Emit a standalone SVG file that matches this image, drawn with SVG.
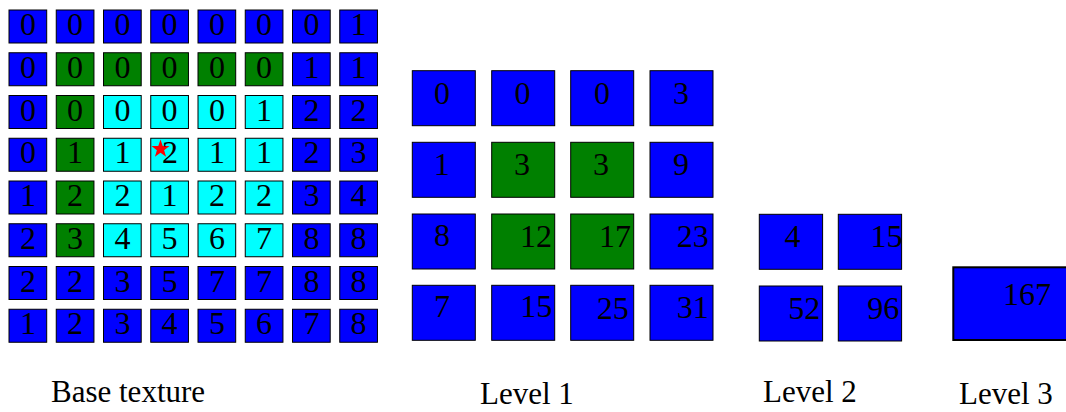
<svg xmlns="http://www.w3.org/2000/svg" width="1066" height="412" viewBox="0 0 1066 412">
<style>
rect{stroke:#000;stroke-width:1}
rect.bg{stroke:none;fill:#fff}
.b{fill:#0000ff}.g{fill:#008000}.c{fill:#00ffff}
text{font-family:"Liberation Serif","Times New Roman",serif;fill:#000}
.n{font-size:32px;text-anchor:middle}
.lbl{font-size:31px}
.thick{stroke-width:2}
</style>
<rect class="bg" width="1066" height="412"/>
<g id="base">
<g id="b-r1">
<rect class="b" x="9" y="10" width="37.7" height="33"/><text class="n" x="27.9" y="35">0</text>
<rect class="b" x="56.25" y="10" width="37.7" height="33"/><text class="n" x="75.1" y="35">0</text>
<rect class="b" x="103.5" y="10" width="37.7" height="33"/><text class="n" x="122.4" y="35">0</text>
<rect class="b" x="150.75" y="10" width="37.7" height="33"/><text class="n" x="169.6" y="35">0</text>
<rect class="b" x="198" y="10" width="37.7" height="33"/><text class="n" x="216.9" y="35">0</text>
<rect class="b" x="245.25" y="10" width="37.7" height="33"/><text class="n" x="264.1" y="35">0</text>
<rect class="b" x="292.5" y="10" width="37.7" height="33"/><text class="n" x="311.4" y="35">0</text>
<rect class="b" x="339.75" y="10" width="37.7" height="33"/><text class="n" x="358.6" y="35">1</text>
</g>
<g id="b-r2">
<rect class="b" x="9" y="52.75" width="37.7" height="33"/><text class="n" x="27.9" y="77.75">0</text>
<rect class="g" x="56.25" y="52.75" width="37.7" height="33"/><text class="n" x="75.1" y="77.75">0</text>
<rect class="g" x="103.5" y="52.75" width="37.7" height="33"/><text class="n" x="122.4" y="77.75">0</text>
<rect class="g" x="150.75" y="52.75" width="37.7" height="33"/><text class="n" x="169.6" y="77.75">0</text>
<rect class="g" x="198" y="52.75" width="37.7" height="33"/><text class="n" x="216.9" y="77.75">0</text>
<rect class="g" x="245.25" y="52.75" width="37.7" height="33"/><text class="n" x="264.1" y="77.75">0</text>
<rect class="b" x="292.5" y="52.75" width="37.7" height="33"/><text class="n" x="311.4" y="77.75">1</text>
<rect class="b" x="339.75" y="52.75" width="37.7" height="33"/><text class="n" x="358.6" y="77.75">1</text>
</g>
<g id="b-r3">
<rect class="b" x="9" y="95.5" width="37.7" height="33"/><text class="n" x="27.9" y="120.5">0</text>
<rect class="g" x="56.25" y="95.5" width="37.7" height="33"/><text class="n" x="75.1" y="120.5">0</text>
<rect class="c" x="103.5" y="95.5" width="37.7" height="33"/><text class="n" x="122.4" y="120.5">0</text>
<rect class="c" x="150.75" y="95.5" width="37.7" height="33"/><text class="n" x="169.6" y="120.5">0</text>
<rect class="c" x="198" y="95.5" width="37.7" height="33"/><text class="n" x="216.9" y="120.5">0</text>
<rect class="c" x="245.25" y="95.5" width="37.7" height="33"/><text class="n" x="264.1" y="120.5">1</text>
<rect class="b" x="292.5" y="95.5" width="37.7" height="33"/><text class="n" x="311.4" y="120.5">2</text>
<rect class="b" x="339.75" y="95.5" width="37.7" height="33"/><text class="n" x="358.6" y="120.5">2</text>
</g>
<g id="b-r4">
<rect class="b" x="9" y="138.25" width="37.7" height="33"/><text class="n" x="27.9" y="163.25">0</text>
<rect class="g" x="56.25" y="138.25" width="37.7" height="33"/><text class="n" x="75.1" y="163.25">1</text>
<rect class="c" x="103.5" y="138.25" width="37.7" height="33"/><text class="n" x="122.4" y="163.25">1</text>
<rect class="c" x="150.75" y="138.25" width="37.7" height="33"/>
<polygon fill="#ff0000" points="160.5,139.5 162.73,145.93 169.54,146.06 164.11,150.17 166.08,156.69 160.5,152.8 154.92,156.69 156.89,150.17 151.46,146.06 158.27,145.93"/>
<text class="n" x="170" y="163.25">2</text>
<rect class="c" x="198" y="138.25" width="37.7" height="33"/><text class="n" x="216.9" y="163.25">1</text>
<rect class="c" x="245.25" y="138.25" width="37.7" height="33"/><text class="n" x="264.1" y="163.25">1</text>
<rect class="b" x="292.5" y="138.25" width="37.7" height="33"/><text class="n" x="311.4" y="163.25">2</text>
<rect class="b" x="339.75" y="138.25" width="37.7" height="33"/><text class="n" x="358.6" y="163.25">3</text>
</g>
<g id="b-r5">
<rect class="b" x="9" y="181" width="37.7" height="33"/><text class="n" x="27.9" y="206">1</text>
<rect class="g" x="56.25" y="181" width="37.7" height="33"/><text class="n" x="75.1" y="206">2</text>
<rect class="c" x="103.5" y="181" width="37.7" height="33"/><text class="n" x="122.4" y="206">2</text>
<rect class="c" x="150.75" y="181" width="37.7" height="33"/><text class="n" x="169.6" y="206">1</text>
<rect class="c" x="198" y="181" width="37.7" height="33"/><text class="n" x="216.9" y="206">2</text>
<rect class="c" x="245.25" y="181" width="37.7" height="33"/><text class="n" x="264.1" y="206">2</text>
<rect class="b" x="292.5" y="181" width="37.7" height="33"/><text class="n" x="311.4" y="206">3</text>
<rect class="b" x="339.75" y="181" width="37.7" height="33"/><text class="n" x="358.6" y="206">4</text>
</g>
<g id="b-r6">
<rect class="b" x="9" y="223.75" width="37.7" height="33"/><text class="n" x="27.9" y="248.75">2</text>
<rect class="g" x="56.25" y="223.75" width="37.7" height="33"/><text class="n" x="75.1" y="248.75">3</text>
<rect class="c" x="103.5" y="223.75" width="37.7" height="33"/><text class="n" x="122.4" y="248.75">4</text>
<rect class="c" x="150.75" y="223.75" width="37.7" height="33"/><text class="n" x="169.6" y="248.75">5</text>
<rect class="c" x="198" y="223.75" width="37.7" height="33"/><text class="n" x="216.9" y="248.75">6</text>
<rect class="c" x="245.25" y="223.75" width="37.7" height="33"/><text class="n" x="264.1" y="248.75">7</text>
<rect class="b" x="292.5" y="223.75" width="37.7" height="33"/><text class="n" x="311.4" y="248.75">8</text>
<rect class="b" x="339.75" y="223.75" width="37.7" height="33"/><text class="n" x="358.6" y="248.75">8</text>
</g>
<g id="b-r7">
<rect class="b" x="9" y="266.5" width="37.7" height="33"/><text class="n" x="27.9" y="291.5">2</text>
<rect class="b" x="56.25" y="266.5" width="37.7" height="33"/><text class="n" x="75.1" y="291.5">2</text>
<rect class="b" x="103.5" y="266.5" width="37.7" height="33"/><text class="n" x="122.4" y="291.5">3</text>
<rect class="b" x="150.75" y="266.5" width="37.7" height="33"/><text class="n" x="169.6" y="291.5">5</text>
<rect class="b" x="198" y="266.5" width="37.7" height="33"/><text class="n" x="216.9" y="291.5">7</text>
<rect class="b" x="245.25" y="266.5" width="37.7" height="33"/><text class="n" x="264.1" y="291.5">7</text>
<rect class="b" x="292.5" y="266.5" width="37.7" height="33"/><text class="n" x="311.4" y="291.5">8</text>
<rect class="b" x="339.75" y="266.5" width="37.7" height="33"/><text class="n" x="358.6" y="291.5">8</text>
</g>
<g id="b-r8">
<rect class="b" x="9" y="309.25" width="37.7" height="33"/><text class="n" x="27.9" y="334.25">1</text>
<rect class="b" x="56.25" y="309.25" width="37.7" height="33"/><text class="n" x="75.1" y="334.25">2</text>
<rect class="b" x="103.5" y="309.25" width="37.7" height="33"/><text class="n" x="122.4" y="334.25">3</text>
<rect class="b" x="150.75" y="309.25" width="37.7" height="33"/><text class="n" x="169.6" y="334.25">4</text>
<rect class="b" x="198" y="309.25" width="37.7" height="33"/><text class="n" x="216.9" y="334.25">5</text>
<rect class="b" x="245.25" y="309.25" width="37.7" height="33"/><text class="n" x="264.1" y="334.25">6</text>
<rect class="b" x="292.5" y="309.25" width="37.7" height="33"/><text class="n" x="311.4" y="334.25">7</text>
<rect class="b" x="339.75" y="309.25" width="37.7" height="33"/><text class="n" x="358.6" y="334.25">8</text>
</g>
</g>
<g id="level1">
<rect class="b" x="412.3" y="70.7" width="63" height="55"/><text class="n" x="442" y="104">0</text>
<rect class="b" x="491.7" y="70.7" width="63" height="55"/><text class="n" x="522.5" y="104">0</text>
<rect class="b" x="570.7" y="70.7" width="63" height="55"/><text class="n" x="602" y="104">0</text>
<rect class="b" x="650" y="70.7" width="63" height="55"/><text class="n" x="681" y="103.5">3</text>
<rect class="b" x="412.3" y="142.3" width="63" height="55"/><text class="n" x="441.7" y="175">1</text>
<rect class="g" x="491.7" y="142.3" width="63" height="55"/><text class="n" x="522" y="175">3</text>
<rect class="g" x="570.7" y="142.3" width="63" height="55"/><text class="n" x="601" y="175">3</text>
<rect class="b" x="650" y="142.3" width="63" height="55"/><text class="n" x="681" y="175">9</text>
<rect class="b" x="412.3" y="214" width="63" height="55"/><text class="n" x="442" y="246">8</text>
<rect class="g" x="491.7" y="214" width="63" height="55"/><text class="n" x="536" y="246.5">12</text>
<rect class="g" x="570.7" y="214" width="63" height="55"/><text class="n" x="615" y="246.5">17</text>
<rect class="b" x="650" y="214" width="63" height="55"/><text class="n" x="692.7" y="246.5">23</text>
<rect class="b" x="412.3" y="285.3" width="63" height="55"/><text class="n" x="442" y="317">7</text>
<rect class="b" x="491.7" y="285.3" width="63" height="55"/><text class="n" x="536.3" y="316.5">15</text>
<rect class="b" x="570.7" y="285.3" width="63" height="55"/><text class="n" x="612.7" y="319.3">25</text>
<rect class="b" x="650" y="285.3" width="63" height="55"/><text class="n" x="692.7" y="318.3">31</text>
</g>
<g id="level2">
<rect class="b" x="759.3" y="214.3" width="63.3" height="55"/><text class="n" x="792.5" y="247.3">4</text>
<rect class="b" x="838.3" y="214.3" width="63.3" height="55"/><text class="n" x="886.5" y="247">15</text>
<rect class="b" x="759.3" y="286" width="63.3" height="55"/><text class="n" x="804.3" y="319">52</text>
<rect class="b" x="838.3" y="286" width="63.3" height="55"/><text class="n" x="883.3" y="319">96</text>
</g>
<g id="level3">
<rect class="b thick" x="953.3" y="267.3" width="126" height="72.7"/><text class="n" x="1027" y="305">167</text>
</g>
<g id="connectors"></g>
<g id="labels">
<text class="lbl" x="51" y="401.7">Base texture</text>
<text class="lbl" x="480" y="404">Level 1</text>
<text class="lbl" x="763" y="401.7">Level 2</text>
<text class="lbl" x="959" y="404.3">Level 3</text>
</g>
</svg>
